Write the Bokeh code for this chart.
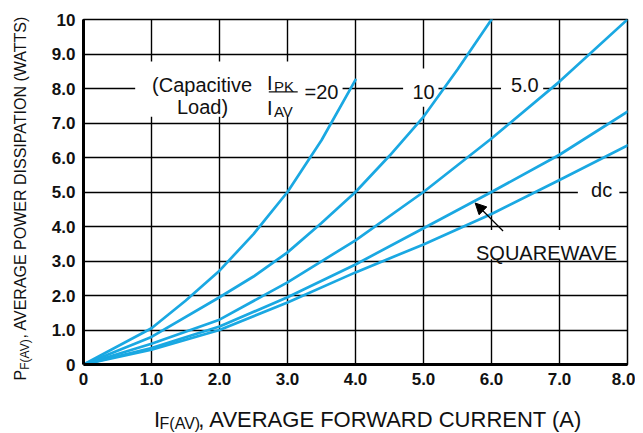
import math
from bokeh.plotting import figure
from bokeh.models import Range1d, FixedTicker, Label, Arrow, NormalHead
from bokeh.layouts import row, column
from bokeh.embed import file_html
from bokeh.resources import INLINE

# ---- data ----
i_20 = [0, 1.0, 1.5, 2.0, 2.5, 3.0, 3.5, 4.0]
p_20 = [0, 1.05, 1.85, 2.72, 3.78, 5.0, 6.5, 8.25]

i_10 = [0, 1.0, 2.0, 2.5, 3.0, 3.5, 4.0, 4.5, 5.0, 5.5, 6.0]
p_10 = [0, 0.8, 1.95, 2.55, 3.25, 4.1, 5.0, 6.05, 7.18, 8.55, 10.0]

i_5 = [0, 1, 2, 3, 4, 5, 6, 7, 8]
p_5 = [0, 0.6, 1.3, 2.38, 3.6, 5.0, 6.55, 8.2, 10.0]

i_sq = [0, 1, 2, 3, 4, 5, 6, 7, 8]
p_sq = [0, 0.48, 1.1, 1.95, 2.9, 3.95, 5.0, 6.08, 7.33]

i_dc = [0, 1, 2, 3, 4, 5, 6, 7, 8]
p_dc = [0, 0.43, 1.0, 1.8, 2.67, 3.48, 4.36, 5.35, 6.35]

x_ticks = [0, 1, 2, 3, 4, 5, 6, 7, 8]
x_tick_labels = ["0", "1.0", "2.0", "3.0", "4.0", "5.0", "6.0", "7.0", "8.0"]
y_ticks = [0, 1, 2, 3, 4, 5, 6, 7, 8, 9, 10]
y_tick_labels = ["0", "1.0", "2.0", "3.0", "4.0", "5.0", "6.0", "7.0", "8.0", "9.0", "10"]

BLUE = "#1aa8e2"
FONT = "Liberation Sans"
INK = "#111111"

# ---------------- main chart ----------------
p = figure(width=587, height=394, output_backend="svg", toolbar_location=None, title=None,
           x_range=Range1d(0, 8), y_range=Range1d(0, 10),
           min_border_left=33, min_border_right=8, min_border_top=19, min_border_bottom=30)
p.background_fill_color = "white"
p.border_fill_color = "white"
p.outline_line_color = "black"
p.outline_line_width = 1.5

for ax, ticks, labels in ((p.xaxis[0], x_ticks, x_tick_labels), (p.yaxis[0], y_ticks, y_tick_labels)):
    ax.ticker = FixedTicker(ticks=ticks)
    ax.major_label_overrides = {t: l for t, l in zip(ticks, labels)}
    ax.axis_line_width = 3
    ax.axis_line_color = "black"
    ax.major_tick_in = 0
    ax.major_tick_out = 0
    ax.minor_tick_in = 0
    ax.minor_tick_out = 0
    ax.major_label_text_font = FONT
    ax.major_label_text_font_style = "bold"
    ax.major_label_text_font_size = "17px"
    ax.major_label_text_color = INK
    ax.major_label_standoff = 8

p.xgrid.ticker = FixedTicker(ticks=x_ticks)
p.ygrid.ticker = FixedTicker(ticks=y_ticks)
for g in (p.xgrid[0], p.ygrid[0]):
    g.grid_line_color = "black"
    g.grid_line_width = 1.4
    g.grid_line_alpha = 1.0

# white boxes behind in-chart texts (hide grid lines there)
box_l = [0.76, 4.70, 6.14, 7.27, 5.70]
box_r = [3.81, 5.22, 6.76, 7.88, 7.97]
box_b = [7.18, 7.47, 7.91, 4.89, 3.05]
box_t = [8.78, 8.58, 8.60, 5.64, 3.90]
p.quad(left=box_l, right=box_r, bottom=box_b, top=box_t, fill_color="white", line_color=None)

for xs, ys in ((i_20, p_20), (i_10, p_10), (i_5, p_5), (i_sq, p_sq), (i_dc, p_dc)):
    p.line(xs, ys, line_color=BLUE, line_width=2.7, line_join="round", line_cap="round")


def lab(fig, x, y, text, size="20px", align="center", angle=0.0):
    fig.add_layout(Label(x=x, y=y, text=text, text_font=FONT, text_font_size=size,
                         text_color=INK, text_align=align, text_baseline="alphabetic",
                         angle=angle))


lab(p, 1.744, 8.11, "(Capacitive")
lab(p, 1.75, 7.47, "Load)")
lab(p, 2.70, 8.17, "I", align="left")
lab(p, 2.80, 8.06, "PK", size="15px", align="left")
lab(p, 2.70, 7.44, "I", align="left")
lab(p, 2.80, 7.33, "AV", size="15px", align="left")
p.segment(x0=[2.725], y0=[7.90], x1=[3.15], y1=[7.90], line_color=INK, line_width=1.3)
lab(p, 3.25, 7.91, "=20", align="left")
lab(p, 5.0, 7.91, "10")
lab(p, 6.49, 8.11, "5.0")
lab(p, 7.62, 5.06, "dc")
lab(p, 6.81, 3.23, "SQUAREWAVE")

p.add_layout(Arrow(end=NormalHead(size=11, fill_color="black", line_color="black"),
                   x_start=6.17, y_start=3.87, x_end=5.76, y_end=4.68,
                   line_color="black", line_width=1.2))


def blank(w, h):
    f = figure(width=w, height=h, output_backend="svg", toolbar_location=None, title=None,
               x_range=Range1d(0, w), y_range=Range1d(0, h),
               x_axis_location=None, y_axis_location=None,
               min_border=0, min_border_left=0, min_border_right=0,
               min_border_top=0, min_border_bottom=0)
    f.outline_line_color = None
    f.grid.visible = False
    f.background_fill_color = "white"
    f.border_fill_color = "white"
    return f


# ---------------- y axis title (left strip) ----------------
yfig = blank(48, 432)
rot = math.pi / 2
lab(yfig, 20, 52, "P", size="16px", align="left", angle=rot)
lab(yfig, 24, 62.7, "F(AV)", size="12px", align="left", angle=rot)
lab(yfig, 20, 94.0, ", AVERAGE POWER DISSIPATION (WATTS)", size="16px", align="left", angle=rot)

# ---------------- x axis title (bottom strip) ----------------
xfig = blank(587, 38)
lab(xfig, 76, 13, "I", size="22px", align="left")
lab(xfig, 82.1, 9, "F(AV)", size="16px", align="left")
lab(xfig, 123.9, 13, ", AVERAGE FORWARD CURRENT (A)", size="22px", align="left")

layout = row(yfig, column(p, xfig, spacing=0), spacing=0)

open("out.html", "w").write(file_html(layout, INLINE))
